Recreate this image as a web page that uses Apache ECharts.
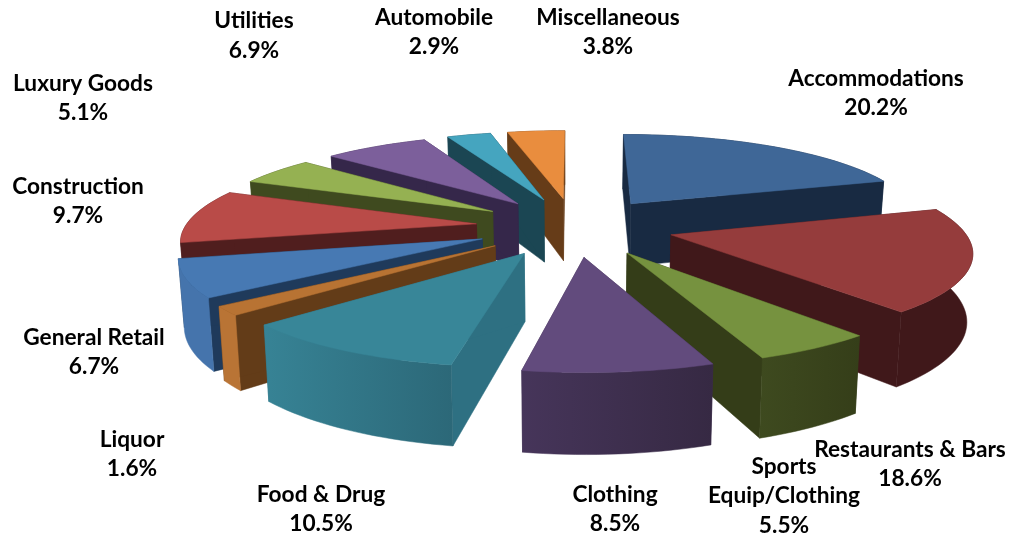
<!DOCTYPE html>
<html>
<head>
<meta charset="utf-8">
<style>html,body{margin:0;padding:0;background:#fff}#chart{width:1025px;height:537px}</style>
<script src="https://cdn.jsdelivr.net/npm/echarts@6/dist/echarts.min.js"></script>
</head>
<body>
<div id="chart"></div>
<script>
const categories = ['Accommodations','Restaurants & Bars','Sports\nEquip/Clothing','Clothing','Food & Drug','Liquor','General Retail','Construction','Luxury Goods','Utilities','Automobile','Miscellaneous'];
const shares = [20.2,18.6,5.5,8.5,10.5,1.6,6.7,9.7,5.1,6.9,2.9,3.8];
const topColors = ['#3f6797','#953c3c','#76923f','#624b7d','#388698','#b87333','#4779b3','#b94b48','#95b152','#7c5f9b','#45a5bf','#e98d3e'];
const edgeColors = ['#182a42','#40181a','#343d18','#3c2d4f','#2e7082','#633c18','#1f3a5b','#501e1e','#3f4a1f','#35274a','#1b4653','#663c18'];
const rimFrom = ['#182a42','#40181a','#3e4a1f','#46355a','#378395','#b97435','#4574ac','#501e1e','#3f4a1f','#35274a','#1b4653','#663c18'];
const rimTo = ['#182a42','#40181a','#353e19','#362943','#2c6878','#b97435','#4574ac','#501e1e','#3f4a1f','#35274a','#1b4653','#663c18'];
const labelAnchors = [[876,93],[910,464],[784,496],[615,509],[321,509],[132,454],[94,352],[78,201],[83,98],[254,35.5],[434,32],[608,32]];

// Perspective projection of the exploded, tilted pie
const CX = 574.5, CY = 226.5, RA = 291, RK = 86.5, EXPLODE = 0.34, PERSP = 0.155;
const total = shares.reduce((a, b) => a + b, 0);
let running = 0;
const rows = shares.map((v, i) => { const r = [v, running, i]; running += v; return r; });
const midCos = rows.map(r => Math.cos((r[1] + r[0] / 2) / total * 2 * Math.PI));
const ranks = midCos.map((c, i) => i).sort((a, b) => midCos[b] - midCos[a]);

function project(sx, cz) {
  const f = 1 / (1 + PERSP * cz);
  return [CX + RA * sx * f, CY - RK * cz * f];
}
const wallH = y => 62 + (y - 199) * 0.115;
const lower = p => [p[0] + (CX - p[0]) * 0.015, p[1] + wallH(p[1])];

function renderSlice(params, api) {
  const v = api.value(0), start = api.value(1), idx = api.value(2);
  const a0 = start / total * 2 * Math.PI, a1 = (start + v) / total * 2 * Math.PI, am = (a0 + a1) / 2;
  const ex = EXPLODE * Math.sin(am), ez = EXPLODE * Math.cos(am);
  const apex = project(ex, ez);
  const rim = [];
  const n = Math.max(4, Math.ceil((a1 - a0) / 0.03));
  for (let k = 0; k <= n; k++) {
    const t = a0 + (a1 - a0) * k / n;
    rim.push(project(ex + Math.sin(t), ez + Math.cos(t)));
  }
  const rimLow = rim.map(lower);
  const rank = ranks.indexOf(idx) * 10;
  const poly = (points, fill, z) => ({ type: 'polygon', shape: { points }, style: { fill, stroke: fill, lineWidth: 0.5 }, z2: rank + z, silent: true });
  const rimFill = new echarts.graphic.LinearGradient(0, 0, 1, 0, [{ offset: 0, color: rimFrom[idx] }, { offset: 1, color: rimTo[idx] }]);
  return {
    type: 'group',
    children: [
      poly([apex, rim[0], rimLow[0], lower(apex)], edgeColors[idx], 1),
      poly([apex, rim[n], rimLow[n], lower(apex)], edgeColors[idx], 1),
      poly(rim.concat(rimLow.slice().reverse()), rimFill, 2),
      poly([apex].concat(rim), topColors[idx], 3)
    ]
  };
}

const labels = categories.map((name, i) => ({
  type: 'text',
  x: labelAnchors[i][0],
  y: labelAnchors[i][1],
  z: 100,
  style: {
    text: name + '\n' + shares[i].toFixed(1) + '%',
    fontFamily: 'Lato',
    fontWeight: 'bold',
    fontSize: 22.7,
    lineHeight: 29.5,
    fill: '#000',
    align: 'center',
    verticalAlign: 'middle'
  }
}));

const chart = echarts.init(document.getElementById('chart'), null, { renderer: 'canvas' });
chart.setOption({
  animation: false,
  backgroundColor: '#fff',
  series: [{ type: 'custom', coordinateSystem: 'none', renderItem: renderSlice, data: rows, silent: true }],
  graphic: { elements: labels }
});
</script>
</body>
</html>
